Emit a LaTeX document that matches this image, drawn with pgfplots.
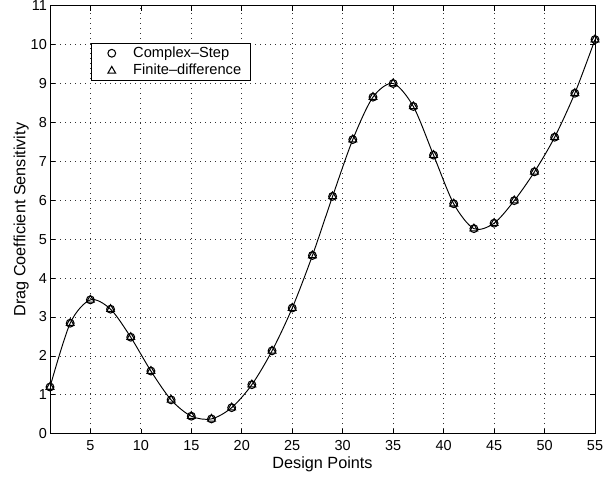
\documentclass[border=0pt]{standalone}
\usepackage{pgfplots}
\pgfplotsset{compat=1.18}
\usepackage{pgfplotstable}
\usepackage{fontspec}
\setmainfont{Liberation Sans}

\pgfplotsset{
  markleg/.style={legend image code/.code={%
    \draw[##1, only marks] plot coordinates {(16bp,0bp)};
    \path (0bp,0bp) (24.5bp,0bp);}},
}

% design point, drag coefficient sensitivity
\pgfplotstableread{
x y
1 1.20
3 2.84
5 3.44
7 3.20
9 2.48
11 1.61
13 0.87
15 0.45
17 0.38
19 0.67
21 1.26
23 2.13
25 3.23
27 4.58
29 6.10
31 7.56
33 8.65
35 9.00
37 8.41
39 7.16
41 5.91
43 5.27
45 5.41
47 5.99
49 6.73
51 7.62
53 8.75
55 10.13
}\sens

\begin{document}
\begin{tikzpicture}
\begin{axis}[
  scale only axis,
  width=545bp, height=428bp,
  xmin=1, xmax=55, ymin=0, ymax=11,
  xtick={5,10,...,55},
  ytick={0,1,...,11},
  tick align=inside,
  major tick length=5bp,
  tick style={black, line width=0.6pt},
  grid=major,
  grid style={black!80, line width=0.7bp, dash pattern=on 0.7bp off 4.3bp},
  axis line style={line width=0.9pt},
  tick label style={font=\fontsize{14.5}{17}\selectfont},
  label style={font=\fontsize{16.3}{19}\selectfont},
  /pgf/number format/assume math mode=true,
  yticklabel style={inner xsep=3bp},
  xticklabel style={inner ysep=6.5bp},
  xlabel={Design Points},
  ylabel={Drag Coefficient Sensitivity},
  xlabel style={at={(axis description cs:0.5,-0.081)}, anchor=base, inner sep=0pt},
  ylabel style={at={(axis description cs:-0.045,0.5)}, anchor=base, inner sep=0pt},
  legend style={at={(rel axis cs:0.075,0.912)}, anchor=north west,
    draw=black, line width=0.9pt, inner xsep=4bp, inner ysep=0.6bp,
    font=\fontsize{14.7}{18}\selectfont, row sep=0pt,
    nodes={inner xsep=5bp, inner ysep=1.85bp, text height=11bp, text depth=3bp},
    /tikz/every odd column/.append style={column sep=7.5bp}},
  legend cell align=left,
]
\addplot[black, line width=0.95bp, smooth, forget plot] table {\sens};
\addplot[black, only marks, mark=o, mark size=3.9bp, mark options={line width=1.05bp},
  markleg] table {\sens};
\addlegendentry{Complex--Step}
\addplot[black, only marks, mark=triangle, mark size=4.5bp, mark options={line width=1.05bp},
  markleg] table {\sens};
\addlegendentry{Finite--difference}
\end{axis}
\pgfresetboundingbox
\path[use as bounding box] ([shift={(-50bp,-42.3bp)}]current axis.south west)
  rectangle ([shift={(14bp,5.7bp)}]current axis.north east);
\end{tikzpicture}
\end{document}
